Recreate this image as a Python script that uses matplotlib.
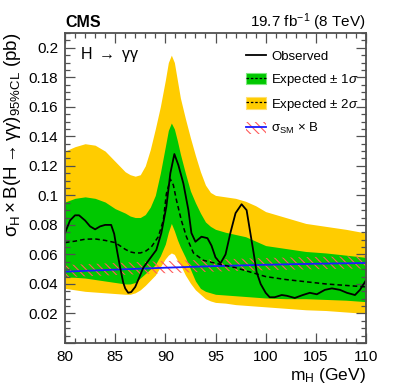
import numpy as np
import matplotlib
matplotlib.use('Agg')
import matplotlib.pyplot as plt
from matplotlib.lines import Line2D
from matplotlib.patches import Patch
from matplotlib.ticker import MultipleLocator, FuncFormatter

plt.rcParams['font.family'] = ['Liberation Sans', 'DejaVu Sans']
plt.rcParams['mathtext.fontset'] = 'custom'
plt.rcParams['mathtext.rm'] = 'Liberation Sans'
plt.rcParams['mathtext.it'] = 'Liberation Sans:italic'
plt.rcParams['mathtext.bf'] = 'Liberation Sans:bold'
plt.rcParams['hatch.linewidth'] = 0.8

# expected bands (95% CL limit, pb)
m_band = [80, 81, 82, 83, 84, 85, 86, 86.5, 87, 87.5, 88, 88.5, 89, 89.5, 90, 90.3,
          90.6, 90.9, 91.2, 91.5, 92, 92.5, 93, 93.5, 94, 94.5, 95, 96, 97, 98, 99,
          100, 102, 104, 106, 108, 110]
up2 = [0.130, 0.133, 0.135, 0.134, 0.130, 0.123, 0.116, 0.114, 0.113, 0.114, 0.120,
       0.131, 0.145, 0.160, 0.178, 0.190, 0.195, 0.190, 0.178, 0.166, 0.152, 0.139,
       0.127, 0.116, 0.107, 0.102, 0.100, 0.099, 0.098, 0.096, 0.093, 0.089, 0.085,
       0.081, 0.079, 0.077, 0.0745]
up1 = [0.0955, 0.098, 0.099, 0.098, 0.0955, 0.091, 0.088, 0.086, 0.085, 0.085, 0.087,
       0.092, 0.100, 0.115, 0.133, 0.144, 0.149, 0.145, 0.137, 0.128, 0.115, 0.103,
       0.095, 0.088, 0.082, 0.079, 0.077, 0.075, 0.0735, 0.072, 0.069, 0.066, 0.064,
       0.062, 0.061, 0.0595, 0.058]
dn1 = [0.0447, 0.0445, 0.044, 0.043, 0.042, 0.041, 0.040, 0.040, 0.041, 0.044, 0.047,
       0.050, 0.053, 0.059, 0.067, 0.075, 0.081, 0.076, 0.070, 0.065, 0.058, 0.050,
       0.042, 0.037, 0.035, 0.034, 0.033, 0.0325, 0.032, 0.0315, 0.031, 0.0305, 0.030,
       0.030, 0.0295, 0.029, 0.028]
dn2 = [0.037, 0.036, 0.035, 0.0345, 0.034, 0.0335, 0.033, 0.033, 0.034, 0.036, 0.039,
       0.0425, 0.046, 0.0515, 0.057, 0.0595, 0.061, 0.060, 0.056, 0.053, 0.046, 0.0405,
       0.036, 0.033, 0.030, 0.0285, 0.0275, 0.027, 0.026, 0.0255, 0.025, 0.0245, 0.0235,
       0.0225, 0.022, 0.021, 0.020]

# median expected
m_exp = [80, 81, 82, 83, 84, 85, 86, 86.5, 87, 87.5, 88, 88.6, 89.3, 89.8, 90.1, 90.5,
         90.8, 91.1, 91.6, 92.1, 92.8, 93.8, 95, 96, 97, 98, 99, 100, 102, 104, 106,
         108, 110]
exp = [0.068, 0.069, 0.0703, 0.0705, 0.0695, 0.068, 0.0635, 0.0617, 0.061, 0.061, 0.062,
       0.065, 0.072, 0.083, 0.101, 0.111, 0.107, 0.097, 0.083, 0.072, 0.061, 0.056,
       0.054, 0.0525, 0.051, 0.049, 0.047, 0.045, 0.043, 0.0415, 0.040, 0.039, 0.038]

# observed
m_obs = [80, 80.5, 81.0, 81.4, 82.0, 82.5, 83.0, 83.5, 84.0, 84.6, 84.9, 85.2, 85.5,
         85.8, 86.0, 86.3, 86.6, 87.0, 87.5, 87.8, 88.5, 89.1, 89.6, 90.1, 90.5, 90.9,
         91.3, 91.8, 92.3, 92.6, 93.0, 93.6, 94.2, 94.6, 95.0, 95.5, 96.0, 96.5, 97.0,
         97.6, 98.1, 98.4, 98.8, 99.1, 99.5, 100.0, 100.4, 100.9, 101.6, 102.1, 102.9,
         103.7, 104.4, 105.1, 105.9, 106.6, 107.4, 108.1, 108.9, 109.4, 110]
obs = [0.0745, 0.083, 0.0865, 0.0865, 0.083, 0.079, 0.077, 0.079, 0.080, 0.080, 0.074,
       0.062, 0.051, 0.041, 0.037, 0.034, 0.0345, 0.038, 0.046, 0.051, 0.0575, 0.063,
       0.0745, 0.0923, 0.115, 0.128, 0.1205, 0.108, 0.090, 0.0745, 0.0686, 0.072, 0.071,
       0.066, 0.058, 0.054, 0.060, 0.075, 0.088, 0.094, 0.090, 0.0775, 0.061, 0.048,
       0.040, 0.034, 0.031, 0.031, 0.0325, 0.032, 0.0305, 0.0325, 0.034, 0.033, 0.036,
       0.037, 0.036, 0.034, 0.0325, 0.036, 0.0425]

# SM cross section x BR with uncertainty
m_sm = [80, 85, 90, 95, 100, 105, 110]
sm = [0.0483, 0.0497, 0.0510, 0.0521, 0.0530, 0.0537, 0.0542]
sm_up = [0.0528, 0.0542, 0.0555, 0.0566, 0.0576, 0.0583, 0.0588]
sm_dn = [0.0446, 0.0460, 0.0473, 0.0484, 0.0493, 0.0500, 0.0505]

green = '#00c800'
yellow = '#ffcc00'
hatch_col = '#ff5a5a'

fig = plt.figure(figsize=(4.07, 3.91), dpi=100)
ax = fig.add_axes([65/407, 1-343/391, 301/407, 310/391])

ax.fill_between(m_band, dn2, up2, color=yellow, lw=0)
ax.fill_between(m_band, dn1, up1, color=green, lw=0)
ax.fill_between(m_sm, sm_dn, sm_up, facecolor='none', edgecolor=hatch_col,
                hatch='\\\\\\\\', lw=0)
ax.plot(m_sm, sm, color='#1a1aff', lw=1.3)
ax.plot(m_exp, exp, color='black', ls=(0, (3, 2)), lw=1.1)
ax.plot(m_obs, obs, color='black', lw=1.3)

ax.set_xlim(80, 110)
ax.set_ylim(0, 0.21)
ax.xaxis.set_major_locator(MultipleLocator(5))
ax.xaxis.set_minor_locator(MultipleLocator(1))
ax.yaxis.set_major_locator(MultipleLocator(0.02))
ax.yaxis.set_minor_locator(MultipleLocator(0.005))
ax.yaxis.set_major_formatter(FuncFormatter(lambda v, p: '' if v == 0 else '%g' % v))

frame = '#505050'
for s in ax.spines.values():
    s.set_color(frame)
    s.set_linewidth(1.3)
ax.tick_params(which='both', direction='in', top=True, right=True, color=frame,
               labelsize=11, width=0.9)
ax.tick_params(which='major', length=7, pad=5)
ax.tick_params(which='minor', length=3.5)

ax.set_xlabel(r'm$_{\mathrm{H}}$ (GeV)', fontsize=12.5, loc='right')
ax.xaxis.set_label_coords(1.0, -0.075)
ax.set_ylabel(r'$\mathrm{\sigma_H \times B(H \rightarrow \gamma\gamma)_{95\%CL}}$ (pb)',
              fontsize=13.5, loc='top')
ax.yaxis.set_label_coords(-0.14, 1.0)

fig.text(65/407, 1-27/391, 'CMS', fontsize=11.5, fontweight='bold', va='baseline')
fig.text(366/407, 1-27/391, r'19.7 fb$^{-1}$ (8 TeV)', fontsize=11, ha='right',
         va='baseline')
ax.text(80/407, 1-59/391, r'H $\rightarrow$ γγ', fontsize=11.5,
        transform=fig.transFigure, va='baseline')

handles = [
    Line2D([], [], color='black', lw=1.3),
    (Patch(facecolor=green, edgecolor='#7de87d', lw=0.8),
     Line2D([], [], color='black', ls=(0, (2, 1.5)), lw=0.9)),
    (Patch(facecolor=yellow, edgecolor='#ffe070', lw=0.8),
     Line2D([], [], color='black', ls=(0, (2, 1.5)), lw=0.9)),
    (Patch(facecolor='none', edgecolor=hatch_col, hatch='\\\\\\\\', lw=0),
     Line2D([], [], color='#1a1aff', lw=1.3)),
]
labels = ['Observed', r'Expected $\pm$ 1$\sigma$', r'Expected $\pm$ 2$\sigma$',
          r'$\mathrm{\sigma_{SM}}$ $\times$ B']
ax.legend(handles, labels, loc='upper left', bbox_to_anchor=(246/407, 1-50/391),
          bbox_transform=fig.transFigure, frameon=False, fontsize=9.5,
          handlelength=1.55, handleheight=1.0, handletextpad=0.35,
          labelspacing=0.65, borderpad=0, borderaxespad=0)

fig.savefig('out.png', dpi=100)
